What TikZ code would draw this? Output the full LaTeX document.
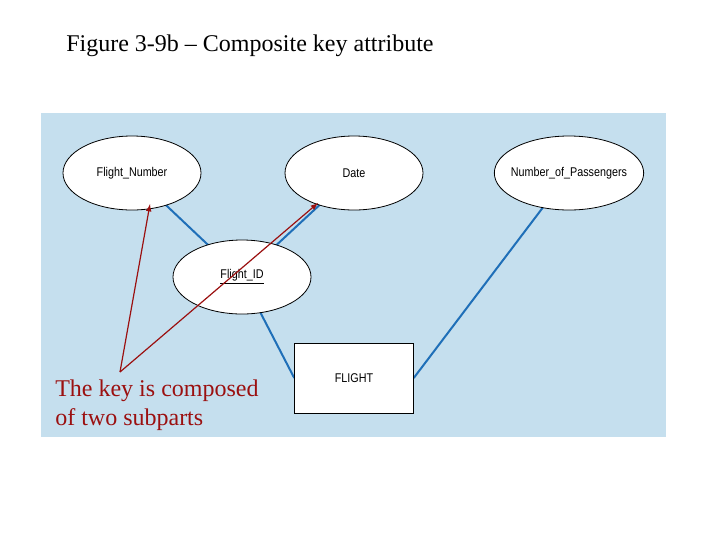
\documentclass[tikz,border=0pt]{standalone}
\usepackage{fontspec}
\setmainfont{Liberation Serif}
\newfontfamily\lab[FakeStretch=0.85]{Liberation Sans}
\usetikzlibrary{shapes.geometric,backgrounds}
\definecolor{bgblue}{HTML}{C5DFEE}
\definecolor{lineblue}{HTML}{1F6FB8}
\definecolor{darkred}{HTML}{9B1010}
\begin{document}
\begin{tikzpicture}[x=0.75pt,y=-0.75pt,
  attr/.style={ellipse,draw=black,fill=white,line width=0.6pt,minimum width=103.5pt,minimum height=55.5pt,inner sep=0pt,font=\lab\fontsize{9.5}{10}\selectfont},
  ent/.style={rectangle,draw=black,fill=white,line width=0.6pt,minimum width=89pt,minimum height=52.5pt,font=\lab\fontsize{9.5}{10}\selectfont},
  rel/.style={draw=lineblue,line width=1.5pt},
  ptr/.style={draw=darkred,line width=0.9pt,-latex}]
\useasboundingbox (0,0) rectangle (720,540);
\node[anchor=west,font=\fontsize{18}{21}\selectfont,inner sep=0pt] (title) at (66,46) {Figure 3-9b -- Composite key attribute};
\node[attr] (fn) at (132,173) {Flight\_Number};
\node[attr] (dt) at (354,173) {Date};
\node[attr,minimum width=112pt] (np) at (569,173) {};
\node[font=\lab\fontsize{9.5}{10}\selectfont,inner sep=0pt] (npl) at (np.center) {Number\_of\_Passengers};
\node[attr] (fid) at (242,277) {\underline{Flight\_ID}};
\node[ent] (fl) at (354,378) {FLIGHT};
\begin{pgfonlayer}{background}
\fill[bgblue] (41,113) rectangle (666,437);
\draw[rel] (fn.center) -- (fid.center);
\draw[rel] (dt.center) -- (fid.center);
\draw[rel] (fid.center) -- (fl.west);
\draw[rel] (np.center) -- (fl.east);
\end{pgfonlayer}
\coordinate (src) at (120,372);
\coordinate (t1) at (150,204);
\coordinate (t2) at (318,203);
\draw[ptr] (src) -- (t1);
\draw[ptr] (src) -- (t2);
\node[anchor=north west,align=left,text=darkred,font=\fontsize{18}{21.5}\selectfont,inner sep=0pt] (note) at (55,380) {The key is composed\\of two subparts};
\end{tikzpicture}
\end{document}
